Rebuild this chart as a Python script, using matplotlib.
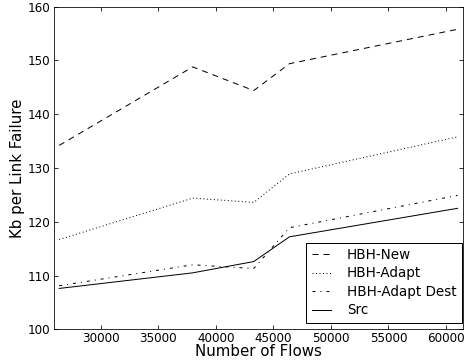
import matplotlib
matplotlib.use("Agg")
import matplotlib.pyplot as plt

flows = [26400, 38000, 43300, 46400, 61000]
hbh_new = [134.2, 148.8, 144.4, 149.4, 155.8]
hbh_adapt = [116.7, 124.4, 123.6, 128.9, 135.8]
hbh_adapt_dest = [108.1, 112.0, 111.3, 118.9, 124.9]
src = [107.6, 110.5, 112.6, 117.2, 122.5]

xticks = [30000, 35000, 40000, 45000, 50000, 55000, 60000]
yticks = [100, 110, 120, 130, 140, 150, 160]

fig = plt.figure(figsize=(6.5, 364 / 72), dpi=72)
ax = fig.add_axes([54 / 468, 1 - 329.3 / 364, 409.3 / 468, 322.6 / 364])

ax.plot(flows, hbh_new, color="k", lw=1, dashes=(6, 5), label="HBH-New")
ax.plot(flows, hbh_adapt, color="k", lw=1, dashes=(1, 2.5), label="HBH-Adapt")
ax.plot(flows, hbh_adapt_dest, color="k", lw=1, dashes=(3, 5, 1, 5), label="HBH-Adapt Dest")
ax.plot(flows, src, "k-", lw=1, label="Src")

ax.set_xlim(25950, 61500)
ax.set_ylim(100, 160)
ax.set_xticks(xticks)
ax.set_yticks(yticks)
ax.tick_params(direction="in", top=True, right=True, labelsize=12, length=4)
ax.tick_params(axis="x", pad=3)
ax.tick_params(axis="y", pad=4)
ax.set_xlabel("Number of Flows", fontsize=15, labelpad=-1)
ax.set_ylabel("Kb per Link Failure", fontsize=15, labelpad=2)

leg = ax.legend(loc="lower right", bbox_to_anchor=(0.9968, 0.0205), fontsize=13.5,
                fancybox=False, framealpha=1, edgecolor="black", borderaxespad=0,
                handlelength=1.4, handletextpad=1.2, labelspacing=0.33, borderpad=0.4)
leg.get_frame().set_linewidth(1)

fig.savefig("out.png", dpi=72)
